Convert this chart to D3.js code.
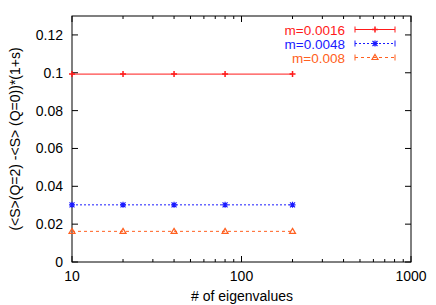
<!DOCTYPE html>
<html><head><meta charset="utf-8">
<script src="https://cdn.jsdelivr.net/npm/d3@7"></script>
<style>html,body{margin:0;padding:0;background:#fff;}text{font-family:"Liberation Sans",Arial,sans-serif;}</style>
</head><body><svg id="c" width="436" height="305"></svg>
<script>
const xValues = [10, 20, 40, 80, 200];
const seriesNames = ["m=0.0016", "m=0.0048", "m=0.008"];
const seriesColors = ["#ff1a1a", "#1a1aff", "#ff6020"];
const series1 = [0.0993, 0.0993, 0.0993, 0.0993, 0.0993];
const series2 = [0.0302, 0.0302, 0.0302, 0.0302, 0.0302];
const series3 = [0.0162, 0.0162, 0.0162, 0.0162, 0.0162];
const yTicks = [0, 0.02, 0.04, 0.06, 0.08, 0.1, 0.12];
const xTicks = [10, 100, 1000];

const svg = d3.select("#c");
const L = 72, R = 411, T = 16, B = 262;
const x = d3.scaleLog().domain([10, 1000]).range([L, R]);
const y = d3.scaleLinear().domain([0, 0.13]).range([B, T]);
const g = svg.append("g");
const FS = 14;

// ticks
const minor = [];
for (let d = 10; d < 1000; d *= 10) for (let k = 2; k <= 9; k++) minor.push(k * d);
minor.forEach(v => {
  g.append("line").attr("x1", x(v)).attr("x2", x(v)).attr("y1", B).attr("y2", B - 3).attr("stroke", "#000");
  g.append("line").attr("x1", x(v)).attr("x2", x(v)).attr("y1", T).attr("y2", T + 3).attr("stroke", "#000");
});
xTicks.forEach(v => {
  g.append("line").attr("x1", x(v)).attr("x2", x(v)).attr("y1", B).attr("y2", B - 6).attr("stroke", "#000");
  g.append("line").attr("x1", x(v)).attr("x2", x(v)).attr("y1", T).attr("y2", T + 6).attr("stroke", "#000");
  g.append("text").attr("x", x(v)).attr("y", B + 19).attr("text-anchor", "middle").attr("font-size", FS).text(v);
});
yTicks.forEach(v => {
  g.append("line").attr("x1", L).attr("x2", L + 6).attr("y1", y(v)).attr("y2", y(v)).attr("stroke", "#000");
  g.append("line").attr("x1", R).attr("x2", R - 6).attr("y1", y(v)).attr("y2", y(v)).attr("stroke", "#000");
  g.append("text").attr("x", L - 9).attr("y", y(v) + 5).attr("text-anchor", "end").attr("font-size", FS).text(v);
});
g.append("rect").attr("x", L).attr("y", T).attr("width", R - L).attr("height", B - T)
  .attr("fill", "none").attr("stroke", "#000").attr("stroke-width", 1);

// labels
g.append("text").attr("x", 242).attr("y", 301).attr("text-anchor", "middle").attr("font-size", FS).text("# of eigenvalues");
g.append("text").attr("transform", `translate(20,${(T + B) / 2}) rotate(-90)`).attr("text-anchor", "middle")
  .attr("font-size", FS).text("(<S>(Q=2) -<S> (Q=0))*(1+s)");

const dashes = [null, "2,2", "3,3"];
const allSeries = [series1, series2, series3];
const line = d3.line().x((d, i) => x(xValues[i])).y(d => y(d));

function marker(sel, type, cx, cy, color) {
  if (type === 0) {
    sel.append("path").attr("d", `M${cx - 3},${cy}H${cx + 3}M${cx},${cy - 3}V${cy + 3}`).attr("stroke", color).attr("stroke-width", 1.5);
  } else if (type === 1) {
    sel.append("path").attr("d", `M${cx - 3},${cy}H${cx + 3}M${cx},${cy - 3}V${cy + 3}M${cx - 2.5},${cy - 2.5}L${cx + 2.5},${cy + 2.5}M${cx - 2.5},${cy + 2.5}L${cx + 2.5},${cy - 2.5}`)
      .attr("stroke", color).attr("stroke-width", 1.2);
  } else {
    sel.append("path").attr("d", `M${cx},${cy - 3}L${cx + 3},${cy + 2}L${cx - 3},${cy + 2}Z`).attr("stroke", color).attr("fill", "none").attr("stroke-width", 1.2);
  }
}

allSeries.forEach((s, k) => {
  g.append("path").datum(s).attr("d", line).attr("fill", "none").attr("stroke", seriesColors[k])
    .attr("stroke-width", 1).attr("stroke-dasharray", dashes[k]);
  s.forEach((v, i) => marker(g, k, x(xValues[i]), y(v), seriesColors[k]));
});

// legend
const ly = [29.5, 43.5, 57.5];
seriesNames.forEach((n, k) => {
  g.append("text").attr("x", 345).attr("y", ly[k] + 5).attr("text-anchor", "end").attr("font-size", 13.5)
    .attr("fill", seriesColors[k]).text(n);
  g.append("line").attr("x1", 355).attr("x2", 395).attr("y1", ly[k]).attr("y2", ly[k]).attr("stroke", seriesColors[k])
    .attr("stroke-dasharray", dashes[k]);
  g.append("path").attr("d", `M355,${ly[k] - 3}V${ly[k] + 3}M395,${ly[k] - 3}V${ly[k] + 3}`).attr("stroke", seriesColors[k]);
  marker(g, k, 375, ly[k], seriesColors[k]);
});
</script></body></html>
